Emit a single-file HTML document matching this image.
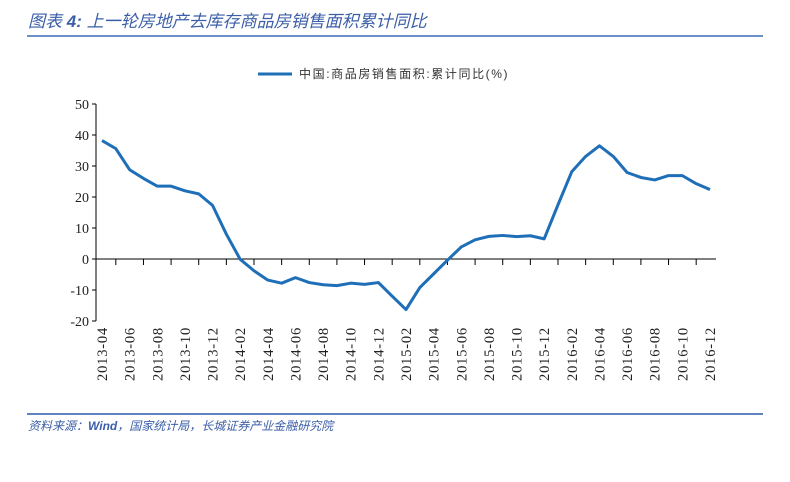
<!DOCTYPE html>
<html><head><meta charset="utf-8"><style>
body{margin:0;background:#fff;width:790px;height:477px;overflow:hidden;font-family:"Liberation Sans","Noto Sans CJK SC",sans-serif}
</style></head><body>
<svg width="790" height="477" xmlns="http://www.w3.org/2000/svg">
<text x="28" y="27" font-size="17" font-style="italic" fill="#3b5ea8" font-family="'Liberation Sans','Noto Sans CJK SC',sans-serif">图表 <tspan font-weight="bold">4:</tspan> 上一轮房地产去库存商品房销售面积累计同比</text>
<line x1="27" y1="36" x2="763" y2="36" stroke="#6f8fc9" stroke-width="2"/>
<g>
<line x1="258" y1="74" x2="292" y2="74" stroke="#1f6fb8" stroke-width="3"/>
<text x="299" y="78" font-size="12" fill="#333" letter-spacing="1.6">中国:商品房销售面积:累计同比(%)</text>
</g>
<g id="axes"></g>
<g id="series"></g>
<line x1="27" y1="414" x2="763" y2="414" stroke="#2c5aa8" stroke-width="1.5"/>
<text x="28" y="430" font-size="12" font-style="italic" fill="#3b5ea8">资料来源：<tspan font-weight="bold">Wind</tspan>，国家统计局，长城证券产业金融研究院</text>
</svg>
<script>
const categories=["2013-04","2013-05","2013-06","2013-07","2013-08","2013-09","2013-10","2013-11","2013-12","2014-01","2014-02","2014-03","2014-04","2014-05","2014-06","2014-07","2014-08","2014-09","2014-10","2014-11","2014-12","2015-01","2015-02","2015-03","2015-04","2015-05","2015-06","2015-07","2015-08","2015-09","2015-10","2015-11","2015-12","2016-01","2016-02","2016-03","2016-04","2016-05","2016-06","2016-07","2016-08","2016-09","2016-10","2016-11","2016-12"];
const values=[38.2,35.6,28.8,26,23.5,23.5,22,21,17.3,8,-0.1,-3.8,-6.8,-7.8,-6,-7.6,-8.3,-8.6,-7.8,-8.2,-7.6,-12,-16.3,-9.2,-4.8,-0.4,3.9,6.2,7.3,7.6,7.2,7.5,6.5,17.5,28.2,33.1,36.5,33.1,27.9,26.3,25.5,26.9,26.9,24.3,22.4];
const yTicks=[50,40,30,20,10,0,-10,-20];
const NS="http://www.w3.org/2000/svg";
const x0=102,x1=710,yTop=104,yBot=321,vMax=50,vMin=-20,axisX=96;
const xs=i=>x0+(x1-x0)*i/(categories.length-1);
const ys=v=>yTop+(vMax-v)*(yBot-yTop)/(vMax-vMin);
const ax=document.getElementById('axes'),se=document.getElementById('series');
function mk(t,a,p){const e=document.createElementNS(NS,t);for(const k in a)e.setAttribute(k,a[k]);p.appendChild(e);return e;}
const yl=mk('line',{x1:axisX,y1:yTop,x2:axisX,y2:yBot,stroke:'#000'},ax);


yTicks.forEach(v=>{
 mk('line',{x1:axisX-4,y1:ys(v),x2:axisX,y2:ys(v),stroke:'#000'},ax);
 const t=mk('text',{x:axisX-7,y:ys(v)+5,'font-size':14,'text-anchor':'end',fill:'#222','font-family':'Liberation Serif,serif',transform:`scale(1,1)`},ax);
 t.textContent=v;
 
 
});
const xl=mk('line',{x1:axisX,y1:ys(0),x2:716,y2:ys(0),stroke:'#000'},ax);


categories.forEach((c,i)=>{
 if(i%2===1) mk('line',{x1:xs(i),y1:ys(0),x2:xs(i),y2:ys(0)+6,stroke:'#000'},ax);
 if(i%2===0){
  const x=xs(i)+5,y=327;
  const t=mk('text',{x:x,y:y,'font-size':14.5,'text-anchor':'end',fill:'#222','font-family':'Liberation Serif,serif','letter-spacing':'0.8',transform:`rotate(-90 ${x} ${y})`},ax);
  t.textContent=c;
  
  
 }
});
const p=mk('polyline',{points:values.map((v,i)=>xs(i)+','+ys(v)).join(' '),fill:'none',stroke:'#1f6fb8','stroke-width':3,'stroke-linejoin':'round'},se);


</script>
</body></html>
